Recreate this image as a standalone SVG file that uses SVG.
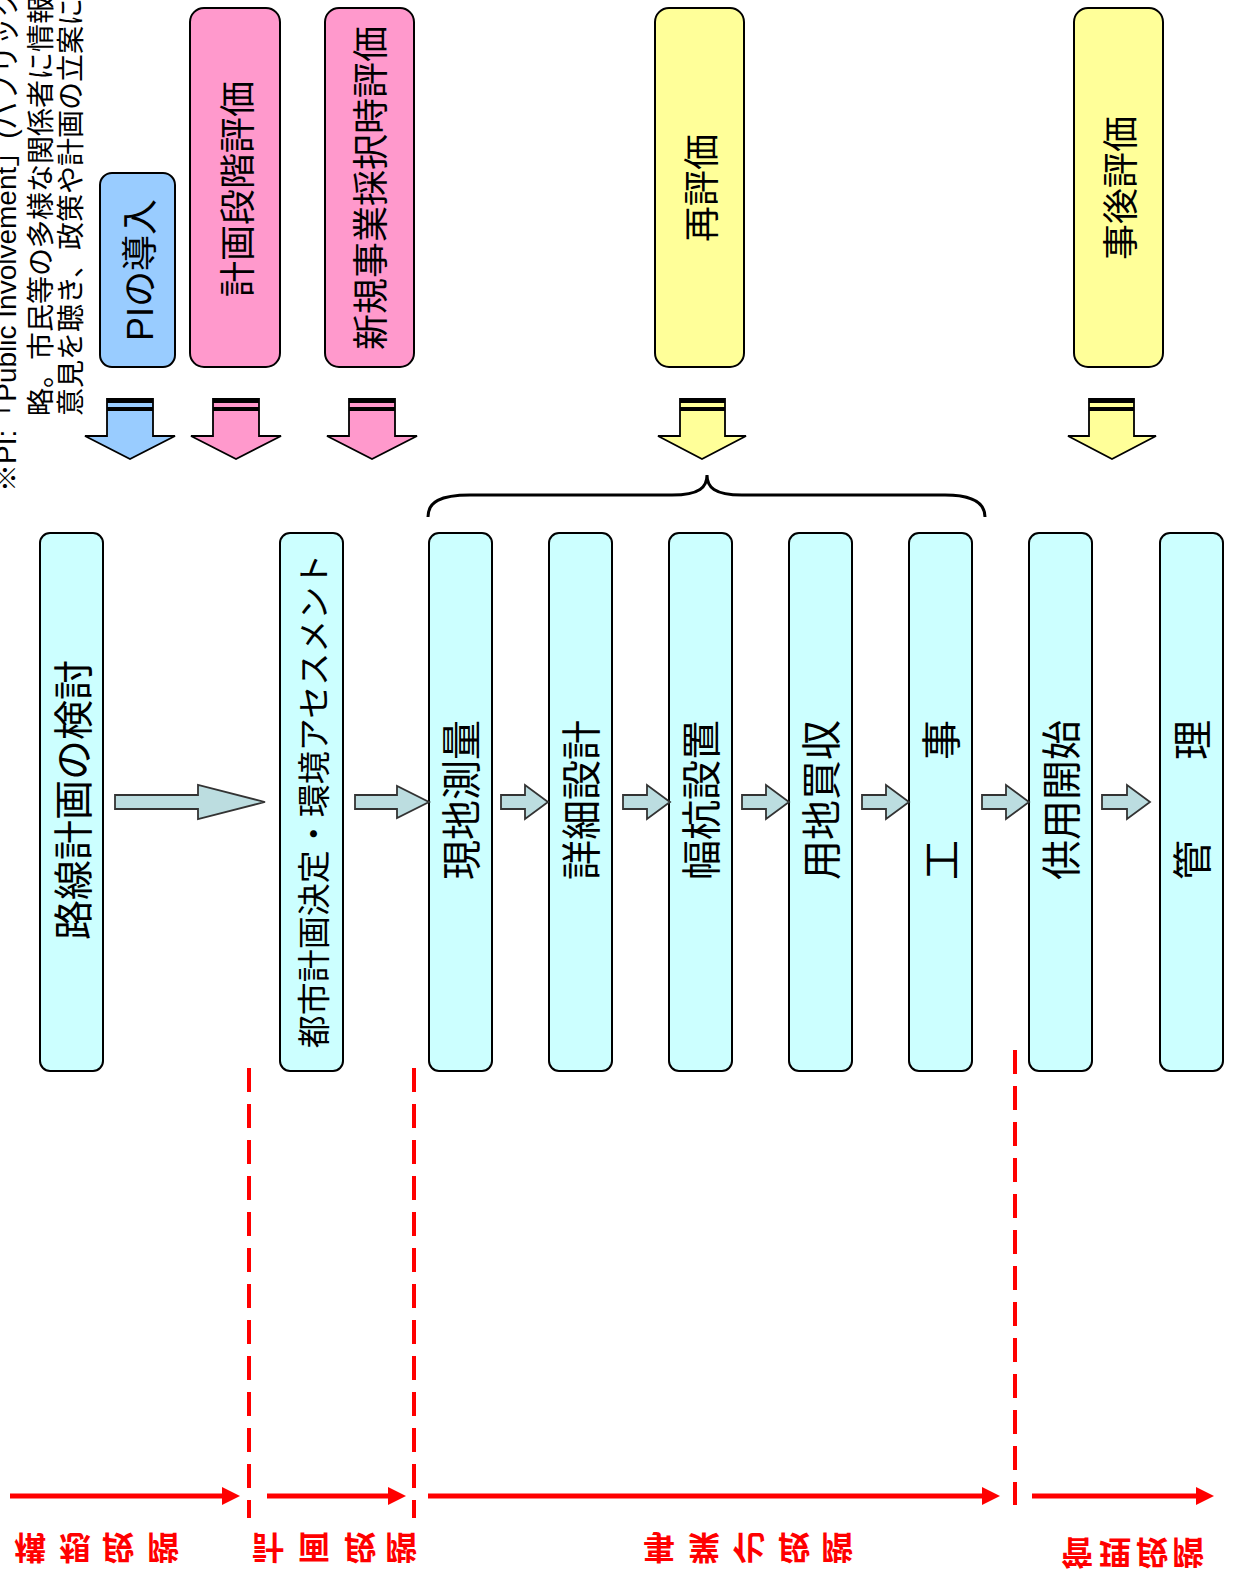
<svg xmlns="http://www.w3.org/2000/svg" width="1234" height="1580" viewBox="0 0 1234 1580">
<defs>
<style>
.t{font-family:"Liberation Sans","Noto Sans CJK JP",sans-serif;fill:#000}
.lbl{text-anchor:middle;dominant-baseline:central}
.box{stroke:#000;stroke-width:2}
.cy{fill:#CCFFFF}
.bl{fill:#99CCFF}
.pk{fill:#FF99CC}
.ye{fill:#FFFF99}
.sa{fill:#BCDDE0;stroke:#333;stroke-width:1.8}
.ba{stroke:#000;stroke-width:1.8;stroke-linejoin:miter}
.red{stroke:#FF0000;stroke-width:5;fill:none}
.dash{stroke:#FF0000;stroke-width:4;stroke-dasharray:24 12;fill:none}
.rl{font-family:"Noto Sans CJK JP",sans-serif;font-weight:bold;font-size:32px;fill:#FF0000;text-anchor:middle;dominant-baseline:central}
</style>
</defs>
<rect width="1234" height="1580" fill="#fff"/>

<g id="note" class="t" font-size="28">
<text transform="translate(16,492) rotate(-90)">※PI:「Public Involvement」(パブリック・</text>
<text transform="translate(51,416) rotate(-90)">略。市民等の多様な関係者に情報</text>
<text transform="translate(81,416) rotate(-90)">意見を聴き、政策や計画の立案に</text>
</g>

<g id="top-pi"><rect class="box bl" x="100" y="173" width="75" height="194" rx="12"/>
<text class="t lbl" font-size="36" transform="translate(140,270) rotate(-90)">PIの導入</text></g>
<g id="top-keikaku"><rect class="box pk" x="190" y="8" width="90" height="359" rx="14"/>
<text class="t lbl" font-size="36" transform="translate(238,189) rotate(-90)">計画段階評価</text></g>
<g id="top-shinki"><rect class="box pk" x="325" y="8" width="89" height="359" rx="14"/>
<text class="t lbl" font-size="36" transform="translate(371,188) rotate(-90)">新規事業採択時評価</text></g>
<g id="top-sai"><rect class="box ye" x="655" y="8" width="89" height="359" rx="14"/>
<text class="t lbl" font-size="36" transform="translate(702,188) rotate(-90)">再評価</text></g>
<g id="top-jigo"><rect class="box ye" x="1074" y="8" width="89" height="359" rx="14"/>
<text class="t lbl" font-size="36" transform="translate(1121,188) rotate(-90)">事後評価</text></g>

<g id="block-arrows">
<polygon class="ba bl" points="107,399 153,399 153,436 175,436 130,459 85,436 107,436"/>
<rect x="107" y="398" width="46" height="5" fill="#000"/><rect x="107" y="407" width="46" height="4" fill="#000"/>
<polygon class="ba pk" points="213,399 259,399 259,436 281,436 236,459 191,436 213,436"/>
<rect x="213" y="398" width="46" height="5" fill="#000"/><rect x="213" y="407" width="46" height="4" fill="#000"/>
<polygon class="ba pk" points="349,399 395,399 395,436 417,436 372,459 327,436 349,436"/>
<rect x="349" y="398" width="46" height="5" fill="#000"/><rect x="349" y="407" width="46" height="4" fill="#000"/>
<polygon class="ba ye" points="680,399 725,399 725,436 746,436 702,459 658,436 680,436"/>
<rect x="680" y="398" width="45" height="5" fill="#000"/><rect x="680" y="407" width="45" height="4" fill="#000"/>
<polygon class="ba ye" points="1089,399 1134,399 1134,436 1156,436 1112,459 1068,436 1089,436"/>
<rect x="1089" y="398" width="45" height="5" fill="#000"/><rect x="1089" y="407" width="45" height="4" fill="#000"/>
</g>

<g id="brace"><path d="M428,517 C428,502 440,495 470,495 L672,495 C700,495 707,487 707,475 C707,487 714,495 742,495 L945,495 C973,495 985,503 985,517" fill="none" stroke="#000" stroke-width="3"/></g>

<g id="n1"><rect class="box cy" x="40" y="533" width="63" height="538" rx="10"/>
<text class="t lbl" font-size="40" transform="translate(74,800) rotate(-90)">路線計画の検討</text></g>
<g id="n2"><rect class="box cy" x="280" y="533" width="63" height="538" rx="10"/>
<text class="t lbl" font-size="33" transform="translate(314,801) rotate(-90)">都市計画決定・環境アセスメント</text></g>
<g id="n3"><rect class="box cy" x="429" y="533" width="63" height="538" rx="10"/>
<text class="t lbl" font-size="40" transform="translate(462,800) rotate(-90)">現地測量</text></g>
<g id="n4"><rect class="box cy" x="549" y="533" width="63" height="538" rx="10"/>
<text class="t lbl" font-size="40" transform="translate(582,800) rotate(-90)">詳細設計</text></g>
<g id="n5"><rect class="box cy" x="669" y="533" width="63" height="538" rx="10"/>
<text class="t lbl" font-size="40" transform="translate(702,800) rotate(-90)">幅杭設置</text></g>
<g id="n6"><rect class="box cy" x="789" y="533" width="63" height="538" rx="10"/>
<text class="t lbl" font-size="40" transform="translate(822,800) rotate(-90)">用地買収</text></g>
<g id="n7"><rect class="box cy" x="909" y="533" width="63" height="538" rx="10"/>
<text class="t lbl" font-size="40" transform="translate(942,800) rotate(-90)">工　　事</text></g>
<g id="n8"><rect class="box cy" x="1029" y="533" width="63" height="538" rx="10"/>
<text class="t lbl" font-size="40" transform="translate(1062,800) rotate(-90)">供用開始</text></g>
<g id="n9"><rect class="box cy" x="1160" y="533" width="63" height="538" rx="10"/>
<text class="t lbl" font-size="40" transform="translate(1193,800) rotate(-90)">管　　理</text></g>

<g id="connectors">
<polygon class="sa" points="115,795 198,795 198,785 265,802 198,819 198,809 115,809"/>
<polygon class="sa" points="355,795 397,795 397,786 429,802 397,818 397,809 355,809"/>
<polygon class="sa" points="501,795 525,795 525,785 548,802 525,819 525,809 501,809"/>
<polygon class="sa" points="623,795 647,795 647,785 670,802 647,819 647,809 623,809"/>
<polygon class="sa" points="742,795 766,795 766,785 789,802 766,819 766,809 742,809"/>
<polygon class="sa" points="862,795 886,795 886,785 909,802 886,819 886,809 862,809"/>
<polygon class="sa" points="982,795 1006,795 1006,785 1029,802 1006,819 1006,809 982,809"/>
<polygon class="sa" points="1102,795 1127,795 1127,785 1150,802 1127,819 1127,809 1102,809"/>
</g>

<g id="phases">
<line class="dash" x1="249" y1="1068" x2="249" y2="1518"/>
<line class="dash" x1="414" y1="1068" x2="414" y2="1518"/>
<line class="dash" x1="1015" y1="1050" x2="1015" y2="1505"/>
<line class="red" x1="10" y1="1496" x2="224" y2="1496"/>
<polygon points="222,1487 240,1496 222,1505" fill="#FF0000"/>
<line class="red" x1="267" y1="1496" x2="390" y2="1496"/>
<polygon points="388,1487 406,1496 388,1505" fill="#FF0000"/>
<line class="red" x1="428" y1="1496" x2="984" y2="1496"/>
<polygon points="982,1487 1000,1496 982,1505" fill="#FF0000"/>
<line class="red" x1="1032" y1="1496" x2="1198" y2="1496"/>
<polygon points="1196,1487 1214,1496 1196,1505" fill="#FF0000"/>
<text class="rl" transform="translate(30,1550) scale(1,-1)">構</text>
<text class="rl" transform="translate(75,1550) scale(1,-1)">想</text>
<text class="rl" transform="translate(118,1550) scale(1,-1)">段</text>
<text class="rl" transform="translate(163,1550) scale(1,-1)">階</text>
<text class="rl" transform="translate(268,1550) scale(1,-1)">計</text>
<text class="rl" transform="translate(314,1550) scale(1,-1)">画</text>
<text class="rl" transform="translate(360,1550) scale(1,-1)">段</text>
<text class="rl" transform="translate(401,1550) scale(1,-1)">階</text>
<text class="rl" transform="translate(659,1550) scale(1,-1)">事</text>
<text class="rl" transform="translate(704,1550) scale(1,-1)">業</text>
<text class="rl" transform="translate(749,1550) scale(1,-1)">化</text>
<text class="rl" transform="translate(794,1550) scale(1,-1)">段</text>
<text class="rl" transform="translate(837,1550) scale(1,-1)">階</text>
<text class="rl" transform="translate(1077,1555) scale(1,-1)">管</text>
<text class="rl" transform="translate(1115,1555) scale(1,-1)">理</text>
<text class="rl" transform="translate(1152,1555) scale(1,-1)">段</text>
<text class="rl" transform="translate(1188,1555) scale(1,-1)">階</text>
</g>
</svg>
